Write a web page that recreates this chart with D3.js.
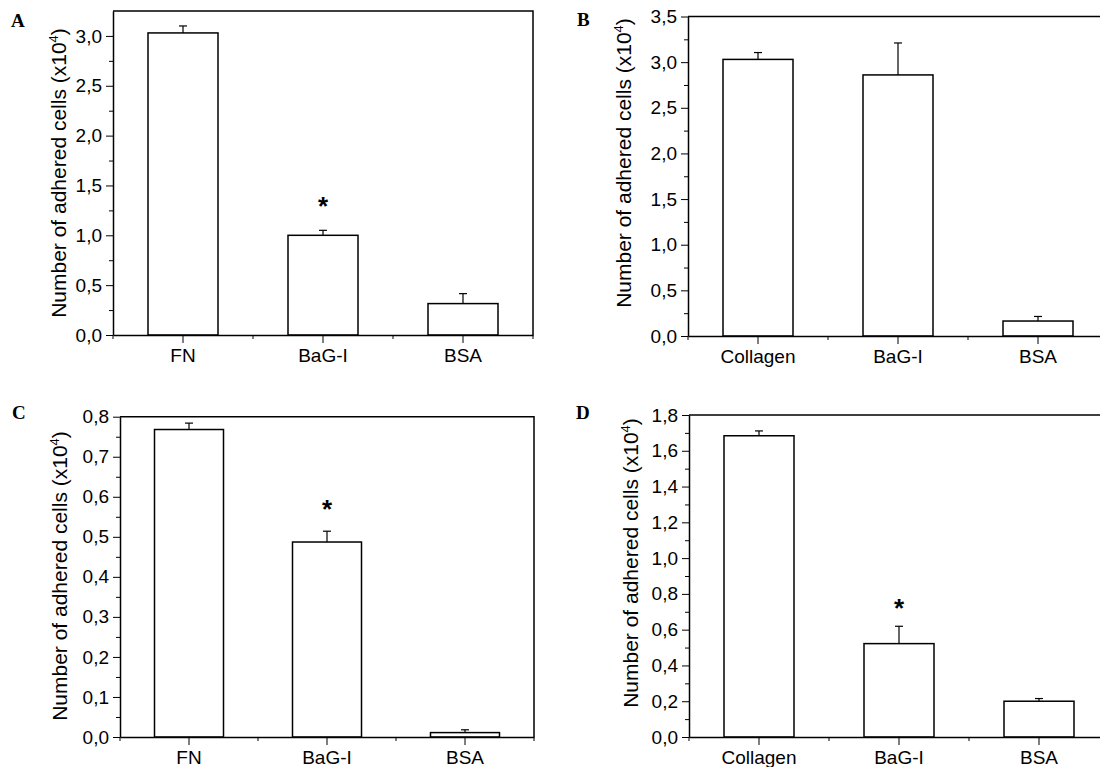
<!DOCTYPE html>
<html>
<head>
<meta charset="utf-8">
<script src="https://cdn.jsdelivr.net/npm/d3@7"></script>
<style>
  body { margin: 0; background: #fff; }
  text { font-family: "Liberation Sans", Arial, sans-serif; fill: #000; }
  .panel-label { font-family: "Liberation Serif", "Times New Roman", serif; font-weight: bold; font-size: 19px; }
  .axis path, .axis line { stroke: #000; }
</style>
</head>
<body>
<div id="chart"></div>
<script>
var width = 1100;
var height = 767;

// Data (values are x10^4 cells)
var panelNames = ["A", "B", "C", "D"];
var catsA = ["FN", "BaG-I", "BSA"];
var meanA = [3.03, 1.00, 0.315];
var errA = [0.07, 0.05, 0.10];
var starA = [false, true, false];

var catsB = ["Collagen", "BaG-I", "BSA"];
var meanB = [3.03, 2.86, 0.164];
var errB = [0.075, 0.35, 0.05];
var starB = [false, false, false];

var catsC = ["FN", "BaG-I", "BSA"];
var meanC = [0.768, 0.487, 0.011];
var errC = [0.016, 0.027, 0.007];
var starC = [false, true, false];

var catsD = ["Collagen", "BaG-I", "BSA"];
var meanD = [1.684, 0.522, 0.2];
var errD = [0.027, 0.097, 0.015];
var starD = [false, true, false];

// Y axis ranges and tick steps
var yMax = [3.25, 3.5, 0.8, 1.8];
var yStep = [0.5, 0.5, 0.1, 0.2];
// where the asterisk sits, in data units
var starY = [1.354, 0, 0.584, 0.756];

// Layout of each panel (pixels)
var layout = [
  {left: 113, right: 533, top: 11, bottom: 335, labelX: 11, labelY: 27, titleDx: -47, titleY: 173},
  {left: 688, right: 1108, top: 16.5, bottom: 336, labelX: 577, labelY: 26, titleDx: -57, titleY: 163},
  {left: 120, right: 534, top: 416.7, bottom: 737, labelX: 12, labelY: 419, titleDx: -53, titleY: 576},
  {left: 689, right: 1109, top: 415, bottom: 737, labelX: 576, labelY: 419, titleDx: -51, titleY: 563}
];

var panels = [
  {cats: catsA, mean: meanA, err: errA, star: starA},
  {cats: catsB, mean: meanB, err: errB, star: starB},
  {cats: catsC, mean: meanC, err: errC, star: starC},
  {cats: catsD, mean: meanD, err: errD, star: starD}
];

// Comma as decimal separator
var locale = d3.formatLocale({decimal: ",", thousands: ".", grouping: [3], currency: ["", ""]});
var fmt = locale.format(".1f");

var svg = d3.select("#chart").append("svg")
    .attr("width", width)
    .attr("height", height);

svg.append("rect").attr("width", width).attr("height", height).attr("fill", "#fff");

panels.forEach(function(p, i) {
  var L = layout[i];
  var g = svg.append("g");

  var x = d3.scaleBand().domain(p.cats).range([L.left, L.right]);
  var y = d3.scaleLinear().domain([0, yMax[i]]).range([L.bottom, L.top]);

  // major / minor y ticks (only inside the axis range)
  var nMajor = Math.floor(yMax[i] / yStep[i] + 1e-6);
  var major = d3.range(0, nMajor + 1).map(k => +(k * yStep[i]).toFixed(3));
  var minor = d3.range(0, nMajor + 1).map(k => +((k + 0.5) * yStep[i]).toFixed(3))
    .filter(v => v < yMax[i] - 1e-6);

  // frame (top and right sides)
  g.append("path")
    .attr("d", "M" + L.left + "," + L.top + "H" + L.right + "V" + L.bottom)
    .attr("fill", "none")
    .attr("stroke", "#000")
    .attr("stroke-width", 1.5);

  // bars
  var bw = x.bandwidth() * 0.5;
  var data = p.cats.map((c, k) => ({cat: c, mean: p.mean[k], err: p.err[k], star: p.star[k]}));

  // error bars (upper only)
  g.selectAll("line.err").data(data).enter().append("line")
    .attr("class", "err")
    .attr("x1", d => x(d.cat) + x.bandwidth() / 2)
    .attr("x2", d => x(d.cat) + x.bandwidth() / 2)
    .attr("y1", d => y(d.mean))
    .attr("y2", d => y(d.mean + d.err))
    .attr("stroke", "#000").attr("stroke-width", 1.2);
  g.selectAll("line.cap").data(data).enter().append("line")
    .attr("class", "cap")
    .attr("x1", d => x(d.cat) + x.bandwidth() / 2 - 4)
    .attr("x2", d => x(d.cat) + x.bandwidth() / 2 + 4)
    .attr("y1", d => y(d.mean + d.err))
    .attr("y2", d => y(d.mean + d.err))
    .attr("stroke", "#000").attr("stroke-width", 1.2);

  g.selectAll("rect.bar").data(data).enter().append("rect")
    .attr("class", "bar")
    .attr("x", d => x(d.cat) + (x.bandwidth() - bw) / 2)
    .attr("y", d => y(d.mean))
    .attr("width", bw)
    .attr("height", d => y(0) - y(d.mean))
    .attr("fill", "#fff")
    .attr("stroke", "#000")
    .attr("stroke-width", 1.5);

  // significance asterisk
  g.selectAll("text.star").data(data.filter(d => d.star)).enter().append("text")
    .attr("class", "star")
    .attr("x", d => x(d.cat) + x.bandwidth() / 2)
    .attr("y", y(starY[i]) + 15)
    .attr("text-anchor", "middle")
    .style("font-size", "26px")
    .style("font-weight", "bold")
    .text("*");

  // y axis
  var yAxis = g.append("g").attr("class", "axis")
    .attr("transform", "translate(" + L.left + ",0)")
    .call(d3.axisLeft(y).tickValues(major).tickSize(7).tickSizeOuter(0).tickPadding(4).tickFormat(fmt));
  yAxis.select(".domain").attr("stroke-width", 1.5);
  yAxis.selectAll(".tick text").style("font-size", "19px");
  g.append("g").attr("class", "axis")
    .attr("transform", "translate(" + L.left + ",0)")
    .call(d3.axisLeft(y).tickValues(minor).tickSize(4).tickFormat(""))
    .select(".domain").remove();

  // x axis: major ticks at centres, minor at band edges
  var xAxis = g.append("g").attr("class", "axis")
    .attr("transform", "translate(0," + L.bottom + ")")
    .call(d3.axisBottom(x).tickSize(8).tickSizeOuter(0).tickPadding(6));
  xAxis.select(".domain").attr("stroke-width", 1.5);
  xAxis.selectAll(".tick text").style("font-size", "19px");
  g.selectAll("line.xminor").data(d3.range(0, p.cats.length + 1)).enter().append("line")
    .attr("class", "xminor")
    .attr("x1", k => L.left + k * x.bandwidth())
    .attr("x2", k => L.left + k * x.bandwidth())
    .attr("y1", L.bottom)
    .attr("y2", L.bottom + 4)
    .attr("stroke", "#000");

  // y axis title
  var title = g.append("text")
    .attr("transform", "translate(" + (L.left + L.titleDx) + "," + L.titleY + ") rotate(-90)")
    .attr("text-anchor", "middle")
    .style("font-size", "21px");
  title.append("tspan").text("Number of adhered cells (x10");
  title.append("tspan").attr("dy", -8).style("font-size", "13px").text("4");
  title.append("tspan").attr("dy", 8).text(")");

  // panel letter
  svg.append("text")
    .attr("class", "panel-label")
    .attr("x", L.labelX)
    .attr("y", L.labelY)
    .text(panelNames[i]);
});
</script>
</body>
</html>
